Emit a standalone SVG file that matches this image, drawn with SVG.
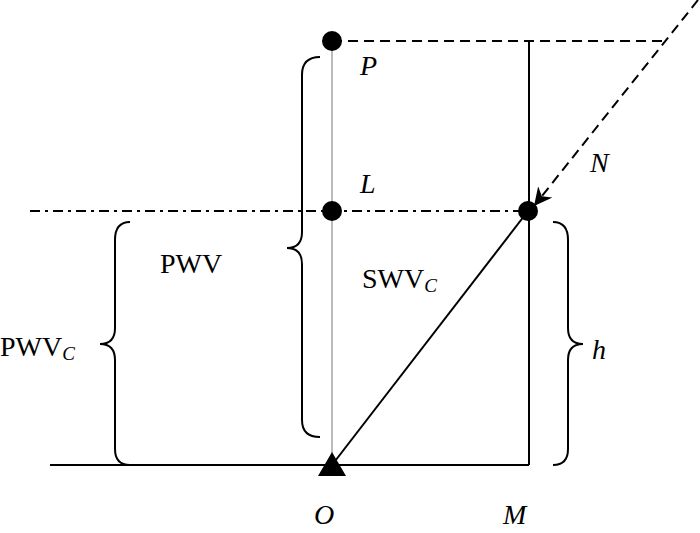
<svg xmlns="http://www.w3.org/2000/svg" width="700" height="533" viewBox="0 0 700 533">
<style>
.t{font-family:'Liberation Serif','Times New Roman',serif;font-size:28px;fill:#000}
.i{font-style:italic}
.s{stroke:#000;stroke-width:2;fill:none}
</style>
<defs><marker id="ah" viewBox="0 0 10 10" refX="10" refY="5" markerWidth="18" markerHeight="18" orient="auto" markerUnits="userSpaceOnUse"><path d="M0,0L10,5L0,10L3,5z" fill="#000"/></marker></defs>
<rect width="700" height="533" fill="#fff"/>
<g id="connectors">
<line x1="332" y1="41" x2="332" y2="465" stroke="#bbb" stroke-width="2"/>
<line class="s" x1="50" y1="465" x2="529" y2="465"/>
<line class="s" x1="529" y1="41" x2="529" y2="465"/>
<line class="s" x1="332" y1="465" x2="528" y2="211"/>
<line class="s" x1="332" y1="41" x2="665" y2="41" stroke-dasharray="10,6"/>
<line class="s" x1="30" y1="211" x2="528" y2="211" stroke-dasharray="10,5,3,5"/>
<line class="s" x1="698" y1="0" x2="534" y2="206" stroke-dasharray="10,6" marker-end="url(#ah)"/>
<path class="s" d="M320,57 Q302,57 302,75 L302,232 Q302,248 287,248 Q302,248 302,264 L302,420 Q302,437 320,437"/>
<path class="s" d="M130,222 Q115,222 115,240 L115,328 Q115,344 100,344 Q115,344 115,360 L115,449 Q115,465 130,465"/>
<path class="s" d="M553,222 Q568,222 568,240 L568,328 Q568,344 583,344 Q568,344 568,360 L568,449 Q568,465 553,465"/>
</g>
<g id="P"><circle cx="332" cy="41" r="10"/><text class="t i" x="360" y="75">P</text></g>
<g id="L"><circle cx="332" cy="211" r="10"/><text class="t i" x="360" y="193">L</text></g>
<g id="R"><circle cx="528" cy="211" r="10"/></g>
<g id="O"><path d="M332,452 L346,476 L318,476z"/><text class="t i" x="314" y="524">O</text></g>
<g id="M"><text class="t i" x="503" y="524">M</text></g>
<g id="labels">
<text class="t i" x="590" y="172">N</text>
<text class="t" x="160" y="273">PWV</text>
<text class="t" x="362" y="288">SWV<tspan class="i" font-size="19" dy="4">C</tspan></text>
<text class="t" x="0" y="356">PWV<tspan class="i" font-size="19" dy="4">C</tspan></text>
<text class="t i" x="592" y="359">h</text>
</g>
</svg>
